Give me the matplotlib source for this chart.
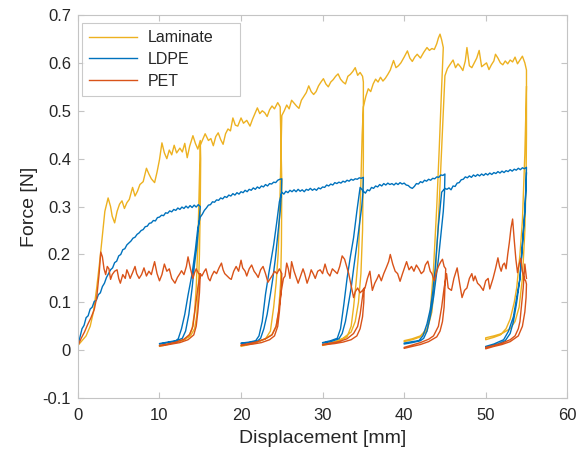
import numpy as np
import matplotlib
matplotlib.use("Agg")
import matplotlib.pyplot as plt

# ---------------- data ----------------
SERIES = ["Laminate", "LDPE", "PET"]
X_TICKS = [0, 10, 20, 30, 40, 50, 60]
Y_TICKS = [-0.1, 0, 0.1, 0.2, 0.3, 0.4, 0.5, 0.6, 0.7]

# Laminate: loading envelope pieces (between unload/reload cycles)
LAM_ENV_X = [
    [0.0,0.5,1.0,1.5,1.9,2.3,2.7,3.0,3.3,3.7,4.0,4.2,4.5,4.8,5.1,5.4,5.7,6.0,6.3,6.7,7.0,7.3,7.6,8.0,8.4,8.7,9.0,9.4,9.7,10.0,10.3,10.6,10.9,11.2,11.5,11.8,12.1,12.5,12.8,13.1,13.4,13.7,14.1,14.4,14.7,15.0],
    [15.0,15.3,15.6,16.0,16.3,16.6,16.9,17.2,17.5,17.8,18.1,18.4,18.7,19.0,19.3,19.6,20.0,20.3,20.7,21.1,21.4,21.7,22.0,22.3,22.6,22.9,23.2,23.5,23.8,24.1,24.5,24.8],
    [25.0,25.3,25.6,25.9,26.2,26.5,26.8,27.1,27.4,27.7,28.0,28.3,28.6,28.9,29.2,29.5,29.8,30.1,30.4,30.7,31.0,31.3,31.6,31.9,32.2,32.5,32.8,33.1,33.4,33.7,34.0,34.3,34.6,34.9],
    [35.0,35.3,35.6,35.9,36.2,36.5,36.8,37.1,37.4,37.7,38.0,38.3,38.7,39.0,39.3,39.6,40.0,40.4,40.7,41.0,41.3,41.6,42.0,42.4,42.8,43.1,43.4,43.7,44.0,44.2,44.4,44.6,44.8],
    [45.0,45.3,45.6,46.0,46.3,46.6,46.9,47.2,47.5,47.7,48.0,48.3,48.6,48.9,49.2,49.5,49.8,50.1,50.4,50.7,51.0,51.2,51.5,51.8,52.1,52.4,52.7,53.0,53.3,53.6,53.9,54.2,54.5,54.8,55.0],
]
LAM_ENV_Y = [
    [0.010,0.020,0.030,0.050,0.080,0.130,0.190,0.240,0.290,0.318,0.300,0.280,0.266,0.290,0.305,0.312,0.296,0.308,0.315,0.340,0.322,0.332,0.346,0.352,0.380,0.368,0.358,0.350,0.372,0.398,0.433,0.412,0.400,0.418,0.408,0.428,0.412,0.422,0.414,0.432,0.402,0.426,0.448,0.432,0.420,0.438],
    [0.428,0.440,0.452,0.438,0.442,0.427,0.446,0.454,0.440,0.430,0.452,0.462,0.458,0.485,0.470,0.468,0.485,0.474,0.480,0.468,0.482,0.494,0.506,0.494,0.500,0.496,0.488,0.502,0.510,0.504,0.517,0.508],
    [0.490,0.500,0.512,0.504,0.522,0.516,0.510,0.505,0.522,0.530,0.538,0.552,0.540,0.534,0.540,0.552,0.560,0.567,0.556,0.550,0.560,0.565,0.572,0.577,0.566,0.560,0.556,0.572,0.576,0.582,0.590,0.574,0.580,0.572],
    [0.508,0.530,0.546,0.540,0.556,0.566,0.560,0.570,0.562,0.568,0.576,0.585,0.605,0.590,0.594,0.600,0.612,0.625,0.610,0.603,0.612,0.618,0.610,0.622,0.632,0.626,0.630,0.628,0.640,0.652,0.660,0.648,0.632],
    [0.573,0.588,0.596,0.606,0.590,0.598,0.592,0.584,0.604,0.632,0.594,0.590,0.600,0.610,0.626,0.592,0.596,0.600,0.586,0.596,0.604,0.618,0.610,0.600,0.596,0.604,0.598,0.606,0.602,0.612,0.598,0.606,0.614,0.600,0.585],
]
# Laminate unload curves (from peak back to cycle start) and reload curves
LAM_UNL_X = [
    [15.05,15.0,14.9,14.75,14.55,14.3,13.8,13.0,12.0,11.0,10.0],
    [25.0,24.95,24.85,24.6,24.3,23.8,23.0,22.0,21.0,20.0],
    [35.0,35.0,34.9,34.7,34.4,34.0,33.5,32.5,31.5,30.5,30.0],
    [44.6,44.3,44.0,43.6,43.2,42.8,42.0,41.0,40.0],
    [55.0,54.95,54.8,54.5,54.1,53.6,53.0,52.0,51.0,50.0],
]
LAM_UNL_Y = [
    [0.400,0.300,0.200,0.120,0.070,0.045,0.030,0.022,0.017,0.013,0.010],
    [0.350,0.220,0.140,0.080,0.050,0.033,0.024,0.018,0.013,0.010],
    [0.560,0.400,0.250,0.160,0.100,0.060,0.038,0.025,0.018,0.014,0.012],
    [0.550,0.420,0.300,0.170,0.080,0.045,0.030,0.024,0.020],
    [0.450,0.350,0.250,0.150,0.090,0.060,0.045,0.035,0.030,0.026],
]
LAM_REL_X = [
    [10.0,11.0,12.0,13.0,13.6,14.0,14.3,14.5,14.7,14.85],
    [20.0,21.0,22.0,23.0,23.6,24.0,24.3,24.55,24.75,24.9],
    [30.0,31.0,32.0,33.0,33.5,33.8,34.1,34.4,34.65,34.85],
    [40.0,41.0,42.0,42.8,43.4,43.8,44.2,44.6,44.9],
    [50.0,51.0,51.8,52.5,53.0,53.5,53.8,54.2,54.5,54.8,55.0],
]
LAM_REL_Y = [
    [0.008,0.012,0.016,0.022,0.030,0.045,0.080,0.130,0.220,0.320],
    [0.008,0.012,0.017,0.024,0.040,0.090,0.140,0.200,0.300,0.420],
    [0.010,0.014,0.019,0.028,0.050,0.090,0.140,0.200,0.320,0.450],
    [0.018,0.022,0.028,0.040,0.080,0.150,0.270,0.420,0.530],
    [0.022,0.027,0.032,0.045,0.065,0.100,0.130,0.200,0.270,0.410,0.550],
]

# LDPE
LDPE_ENV_X = [
    [0.0,0.25,0.5,0.75,1.0,1.25,1.5,1.75,2.0,2.25,2.5,2.75,3.0,3.25,3.5,3.75,4.0,4.25,4.5,4.75,5.0,5.25,5.5,5.75,6.0,6.25,6.5,6.75,7.0,7.25,7.5,7.75,8.0,8.25,8.5,8.75,9.0,9.25,9.5,9.75,10.0,10.25,10.5,10.75,11.0,11.25,11.5,11.75,12.0,12.25,12.5,12.75,13.0,13.25,13.5,13.75,14.0,14.25,14.5,14.75,15.0],
    [15.0,15.25,15.5,15.75,16.0,16.25,16.5,16.75,17.0,17.25,17.5,17.75,18.0,18.25,18.5,18.75,19.0,19.25,19.5,19.75,20.0,20.25,20.5,20.75,21.0,21.25,21.5,21.75,22.0,22.25,22.5,22.75,23.0,23.25,23.5,23.75,24.0,24.25,24.5,24.75,25.0],
    [25.0,25.25,25.5,25.75,26.0,26.25,26.5,26.75,27.0,27.25,27.5,27.75,28.0,28.25,28.5,28.75,29.0,29.25,29.5,29.75,30.0,30.25,30.5,30.75,31.0,31.25,31.5,31.75,32.0,32.25,32.5,32.75,33.0,33.25,33.5,33.75,34.0,34.25,34.5,34.75,35.0],
    [35.0,35.25,35.5,35.75,36.0,36.25,36.5,36.75,37.0,37.25,37.5,37.75,38.0,38.25,38.5,38.75,39.0,39.25,39.5,39.75,40.0,40.25,40.5,40.75,41.0,41.25,41.5,41.75,42.0,42.25,42.5,42.75,43.0,43.25,43.5,43.75,44.0,44.25,44.5,44.75,45.0],
    [45.0,45.25,45.5,45.75,46.0,46.25,46.5,46.75,47.0,47.25,47.5,47.75,48.0,48.25,48.5,48.75,49.0,49.25,49.5,49.75,50.0,50.25,50.5,50.75,51.0,51.25,51.5,51.75,52.0,52.25,52.5,52.75,53.0,53.25,53.5,53.75,54.0,54.25,54.5,54.75,55.0],
]
LDPE_ENV_Y = [
    [0.010,0.028,0.045,0.052,0.068,0.072,0.086,0.090,0.102,0.104,0.116,0.120,0.133,0.140,0.152,0.160,0.168,0.172,0.183,0.186,0.197,0.200,0.210,0.212,0.220,0.224,0.228,0.234,0.236,0.242,0.245,0.250,0.252,0.258,0.259,0.265,0.266,0.271,0.270,0.277,0.278,0.282,0.281,0.287,0.286,0.291,0.289,0.294,0.292,0.297,0.294,0.299,0.296,0.301,0.297,0.302,0.298,0.303,0.299,0.304,0.300],
    [0.278,0.284,0.292,0.297,0.303,0.304,0.310,0.309,0.314,0.313,0.318,0.316,0.321,0.319,0.324,0.322,0.327,0.324,0.329,0.326,0.331,0.329,0.334,0.331,0.336,0.334,0.339,0.336,0.341,0.338,0.343,0.341,0.346,0.343,0.348,0.347,0.351,0.350,0.355,0.357,0.358],
    [0.330,0.326,0.332,0.329,0.334,0.331,0.335,0.331,0.336,0.332,0.335,0.331,0.336,0.334,0.338,0.334,0.337,0.334,0.339,0.337,0.341,0.340,0.345,0.343,0.347,0.345,0.350,0.348,0.351,0.349,0.353,0.351,0.355,0.353,0.357,0.355,0.358,0.357,0.360,0.359,0.361],
    [0.332,0.328,0.335,0.333,0.340,0.338,0.343,0.341,0.346,0.343,0.348,0.345,0.349,0.346,0.348,0.345,0.349,0.346,0.350,0.347,0.349,0.345,0.344,0.340,0.338,0.342,0.348,0.347,0.352,0.350,0.355,0.353,0.357,0.355,0.359,0.358,0.362,0.361,0.366,0.365,0.368],
    [0.338,0.336,0.339,0.335,0.343,0.342,0.349,0.350,0.356,0.357,0.362,0.360,0.364,0.361,0.366,0.363,0.367,0.364,0.368,0.365,0.369,0.366,0.370,0.367,0.371,0.369,0.373,0.370,0.374,0.371,0.375,0.373,0.377,0.374,0.378,0.376,0.380,0.377,0.381,0.379,0.382],
]
LDPE_UNL_X = [
    [14.9,14.6,14.3,14.0,13.6,13.2,12.8,12.0,11.0,10.0],
    [24.95,24.8,24.5,24.2,23.9,23.6,23.2,22.8,22.4,22.0,21.0,20.0],
    [34.95,34.8,34.5,34.2,33.8,33.5,33.2,32.8,32.4,32.0,31.0,30.0],
    [44.95,44.8,44.5,44.2,43.9,43.6,43.2,42.8,42.4,42.0,41.0,40.0],
    [54.95,54.8,54.5,54.2,53.8,53.4,53.0,52.4,51.5,50.5,50.0],
]
LDPE_UNL_Y = [
    [0.280,0.220,0.180,0.130,0.075,0.040,0.025,0.019,0.016,0.013],
    [0.330,0.290,0.240,0.190,0.150,0.117,0.075,0.045,0.025,0.019,0.016,0.014],
    [0.330,0.300,0.260,0.220,0.170,0.130,0.100,0.060,0.035,0.024,0.018,0.015],
    [0.330,0.290,0.240,0.190,0.150,0.110,0.070,0.040,0.025,0.020,0.016,0.013],
    [0.340,0.290,0.220,0.150,0.100,0.060,0.035,0.020,0.013,0.008,0.006],
]
LDPE_REL_X = [
    [10.0,11.0,12.0,12.3,12.7,13.1,13.5,14.0,14.4,14.7],
    [20.0,21.0,21.8,22.2,22.6,23.0,23.4,23.7,24.0,24.4,24.7],
    [30.0,31.0,31.8,32.2,32.6,33.0,33.4,33.8,34.2,34.6],
    [40.0,41.0,41.8,42.3,42.8,43.2,43.5,43.8,44.2,44.6],
    [50.0,51.0,52.2,52.8,53.4,53.8,54.2,54.5,54.8,55.0],
]
LDPE_REL_Y = [
    [0.014,0.017,0.020,0.024,0.045,0.075,0.115,0.160,0.210,0.255],
    [0.015,0.017,0.020,0.030,0.060,0.117,0.160,0.190,0.220,0.270,0.310],
    [0.016,0.020,0.025,0.045,0.095,0.150,0.195,0.235,0.290,0.340],
    [0.015,0.018,0.020,0.030,0.055,0.085,0.120,0.170,0.260,0.330],
    [0.008,0.013,0.022,0.040,0.070,0.110,0.150,0.220,0.290,0.370],
]

# PET
PET_ENV_X = [
    [0.0,0.4,0.8,1.2,1.6,2.0,2.3,2.6,2.8,3.0,3.2,3.4,3.6,3.8,4.0,4.2,4.5,4.8,5.0,5.2,5.5,5.8,6.0,6.2,6.4,6.7,7.0,7.2,7.5,7.8,8.1,8.4,8.7,9.0,9.2,9.4,9.7,10.0,10.3,10.6,10.9,11.2,11.5,11.9,12.2,12.5,12.7,13.0,13.3,13.5,13.8,14.1,14.3,14.5,14.8,15.0],
    [15.2,15.5,15.7,16.0,16.2,16.4,16.7,17.0,17.3,17.6,17.8,18.0,18.3,18.6,18.8,19.1,19.4,19.7,20.0,20.2,20.5,20.7,21.0,21.3,21.6,21.9,22.1,22.4,22.7,23.0,23.3,23.6,23.9,24.1,24.4,24.7,25.0],
    [25.2,25.4,25.6,25.8,26.0,26.2,26.5,26.8,27.0,27.3,27.6,27.8,28.1,28.4,28.6,28.9,29.1,29.4,29.7,30.0,30.3,30.6,30.9,31.2,31.5,31.8,32.1,32.4,32.7,33.0,33.2,33.5,33.8,34.0,34.3,34.6,34.9,35.1],
    [35.2,35.5,35.8,36.1,36.4,36.7,36.9,37.2,37.5,37.8,38.1,38.3,38.6,38.9,39.2,39.5,39.8,40.1,40.3,40.6,40.9,41.2,41.5,41.8,42.1,42.4,42.6,42.9,43.2,43.4,43.7,44.0,44.2,44.5,44.7,44.9,45.1],
    [45.2,45.4,45.8,46.1,46.5,46.8,47.1,47.4,47.7,48.0,48.3,48.5,48.7,49.0,49.3,49.7,50.0,50.3,50.5,50.9,51.2,51.5,51.7,51.9,52.1,52.3,52.5,52.7,52.9,53.1,53.3,53.5,53.7,53.9,54.1,54.3,54.5,54.7,54.9,55.0],
]
PET_ENV_Y = [
    [0.010,0.025,0.038,0.054,0.068,0.085,0.110,0.160,0.205,0.195,0.170,0.158,0.175,0.170,0.148,0.158,0.165,0.168,0.150,0.140,0.158,0.150,0.168,0.160,0.150,0.162,0.175,0.160,0.150,0.158,0.172,0.155,0.165,0.158,0.172,0.185,0.160,0.145,0.158,0.180,0.165,0.170,0.150,0.140,0.152,0.160,0.166,0.158,0.175,0.195,0.170,0.150,0.162,0.170,0.160,0.158],
    [0.155,0.165,0.170,0.150,0.145,0.155,0.165,0.160,0.172,0.182,0.168,0.160,0.155,0.150,0.148,0.165,0.175,0.165,0.188,0.172,0.165,0.155,0.170,0.178,0.165,0.158,0.152,0.168,0.175,0.160,0.142,0.150,0.158,0.165,0.160,0.170,0.160],
    [0.150,0.155,0.182,0.170,0.150,0.185,0.165,0.150,0.140,0.155,0.170,0.160,0.140,0.155,0.168,0.158,0.150,0.165,0.168,0.160,0.180,0.162,0.155,0.170,0.165,0.160,0.175,0.197,0.190,0.172,0.160,0.135,0.110,0.122,0.130,0.120,0.125,0.130],
    [0.130,0.150,0.165,0.125,0.140,0.150,0.158,0.145,0.160,0.172,0.185,0.200,0.180,0.165,0.160,0.144,0.160,0.175,0.185,0.168,0.175,0.165,0.178,0.170,0.160,0.165,0.178,0.186,0.165,0.160,0.145,0.165,0.175,0.185,0.190,0.175,0.170],
    [0.160,0.130,0.125,0.150,0.172,0.140,0.110,0.125,0.130,0.150,0.160,0.145,0.155,0.140,0.135,0.125,0.145,0.150,0.128,0.150,0.170,0.193,0.175,0.165,0.178,0.182,0.170,0.200,0.225,0.255,0.274,0.230,0.190,0.162,0.180,0.192,0.165,0.150,0.145,0.138],
]
PET_UNL_X = [
    [14.9,14.7,14.5,14.2,13.5,12.5,11.5,10.5,10.0],
    [24.9,24.7,24.5,24.1,23.5,22.5,21.5,20.5,20.0],
    [35.05,34.9,34.6,34.2,33.5,32.5,31.5,30.5,30.0],
    [45.0,44.9,44.7,44.4,44.0,43.0,42.0,41.0,40.0],
    [54.95,54.8,54.5,54.0,53.0,52.0,51.0,50.0],
]
PET_UNL_Y = [
    [0.120,0.080,0.050,0.032,0.022,0.016,0.013,0.010,0.009],
    [0.120,0.080,0.050,0.030,0.022,0.016,0.013,0.011,0.010],
    [0.100,0.070,0.045,0.030,0.022,0.017,0.014,0.012,0.011],
    [0.130,0.090,0.060,0.040,0.028,0.018,0.012,0.008,0.004],
    [0.110,0.080,0.050,0.030,0.018,0.012,0.008,0.003],
]
PET_REL_X = [
    [10.0,11.0,12.0,13.0,13.7,14.1,14.4,14.7,15.0],
    [20.0,21.0,22.0,23.0,23.8,24.3,24.6,24.9],
    [30.0,31.0,32.0,33.0,33.8,34.3,34.6,34.8,35.0],
    [40.0,41.0,42.0,43.0,43.6,44.2,44.6,44.9],
    [50.0,51.0,52.0,53.0,53.6,54.0,54.2,54.6,54.8,55.0],
]
PET_REL_Y = [
    [0.010,0.013,0.017,0.023,0.033,0.050,0.090,0.130,0.160],
    [0.011,0.014,0.018,0.024,0.032,0.050,0.080,0.120],
    [0.012,0.015,0.018,0.024,0.035,0.050,0.075,0.100,0.125],
    [0.006,0.011,0.016,0.023,0.030,0.050,0.090,0.130],
    [0.006,0.010,0.015,0.022,0.030,0.045,0.060,0.130,0.180,0.150],
]

COLORS = ["#EDB120", "#0072BD", "#D95319"]


def build_path(env_x, env_y, unl_x, unl_y, rel_x, rel_y):
    xs, ys = [], []
    for k in range(len(env_x)):
        xs += env_x[k] + unl_x[k] + rel_x[k]
        ys += env_y[k] + unl_y[k] + rel_y[k]
    return np.array(xs), np.array(ys)


paths = [
    build_path(LAM_ENV_X, LAM_ENV_Y, LAM_UNL_X, LAM_UNL_Y, LAM_REL_X, LAM_REL_Y),
    build_path(LDPE_ENV_X, LDPE_ENV_Y, LDPE_UNL_X, LDPE_UNL_Y, LDPE_REL_X, LDPE_REL_Y),
    build_path(PET_ENV_X, PET_ENV_Y, PET_UNL_X, PET_UNL_Y, PET_REL_X, PET_REL_Y),
]

# ---------------- figure ----------------
plt.rcParams['font.family'] = ['Liberation Sans', 'DejaVu Sans']
fig = plt.figure(figsize=(5.86, 4.54), dpi=100)
ax = fig.add_axes([0.133, 0.123, 0.835, 0.844])

for (x, y), name, c in zip(paths, SERIES, COLORS):
    ax.plot(x, y, color=c, lw=1.0, label=name)

ax.set_xlim(0, 60)
ax.set_ylim(-0.1, 0.7)
ax.set_xticks(X_TICKS)
ax.set_yticks(Y_TICKS)
ax.set_yticklabels(["-0.1", "0", "0.1", "0.2", "0.3", "0.4", "0.5", "0.6", "0.7"])

edge = "#c4c4c4"
for s in ax.spines.values():
    s.set_color(edge)
    s.set_linewidth(0.8)
ax.tick_params(direction="in", length=4, width=0.8, color=edge,
               labelsize=12, labelcolor="#262626", top=True, right=True, pad=5)
ax.tick_params(axis="x", pad=7)

ax.set_xlabel("Displacement [mm]", fontsize=14, color="#262626", labelpad=5)
ax.set_ylabel("Force [N]", fontsize=14, color="#262626", labelpad=3)

leg = ax.legend(loc="upper left", bbox_to_anchor=(0.008, 0.799, 0.323, 0.18),
                mode="expand", fontsize=11.5, frameon=True, fancybox=False,
                edgecolor="#bdbdbd", borderaxespad=0.0, handlelength=3.0,
                handletextpad=0.7, labelspacing=0.42, borderpad=0.45)
leg.get_frame().set_linewidth(0.8)
for t in leg.get_texts():
    t.set_color("#262626")

fig.savefig("out.png", dpi=100)
